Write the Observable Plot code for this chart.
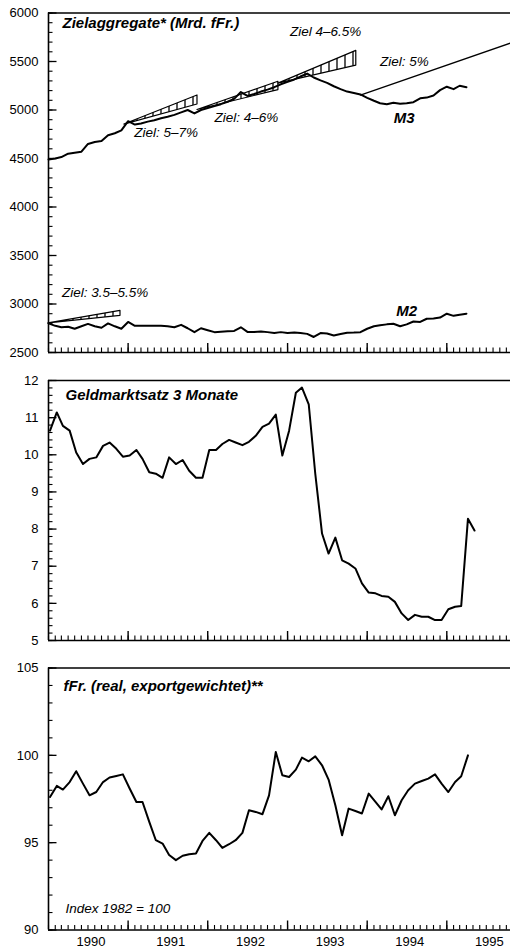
<!DOCTYPE html>
<html><head><meta charset="utf-8">
<script src="https://cdn.jsdelivr.net/npm/d3@7"></script>
<script src="https://cdn.jsdelivr.net/npm/@observablehq/plot@0.6"></script>
<style>
html,body{margin:0;padding:0;background:#fff;}
#chart{width:510px;height:950px;overflow:hidden;background:#fff;}
#chart svg{display:block;}
</style></head><body><div id="chart"></div>
<script>
// ---------- DATA ----------
// Panel 1: monthly, Jan 1990 onward (Mrd. fFr.)
const m3Values = [4490,4500,4515,4550,4560,4570,4650,4670,4680,4740,4760,4790,
  4885,4850,4860,4880,4895,4915,4930,4950,4975,5000,4965,5000,
  5020,5040,5060,5085,5115,5185,5145,5165,5190,5210,5235,5265,
  5290,5315,5345,5375,5335,5305,5280,5245,5215,5190,5175,5160,
  5125,5095,5070,5060,5074,5065,5070,5080,5120,5128,5150,5205,
  5240,5215,5250,5235];
const m2Values = [2800,2775,2760,2765,2745,2770,2795,2770,2755,2800,2770,2745,
  2815,2775,2775,2775,2775,2775,2770,2760,2785,2750,2710,2750,
  2730,2710,2715,2720,2722,2760,2712,2712,2717,2710,2700,2710,
  2700,2705,2700,2692,2660,2700,2695,2676,2690,2703,2705,2710,
  2745,2770,2780,2790,2796,2770,2790,2820,2815,2848,2850,2860,
  2900,2878,2890,2900];
// M3 target corridors
const m3TargetNames = ["Ziel: 5–7%","Ziel: 4–6%","Ziel 4–6.5%"];
const m3TargetStart = ["1990-12-15","1991-11-15","1992-11-20"];
const m3TargetStartValue = [4850,5000,5272];
const m3TargetEnd = ["1991-11-15","1992-11-20","1993-11-12"];
const m3TargetLow = [5057,5205,5458];
const m3TargetHigh = [5150,5291,5610];
// M2 target corridor
const m2TargetStart = "1990-01-01", m2TargetStartValue = 2800;
const m2TargetEnd = "1990-11-27", m2TargetLow = 2878, m2TargetHigh = 2930;
// M3 target path 5%
const m3PathDates = ["1993-12-01","1995-10-20"];
const m3PathValues = [5153,5690];
// Panel 2: 3-month money market rate (%)
const rateValues = [10.65,11.14,10.78,10.65,10.06,9.75,9.89,9.93,10.24,10.33,
  10.16,9.95,9.98,10.13,9.89,9.53,9.49,9.38,9.93,9.75,
  9.86,9.57,9.38,9.38,10.13,10.13,10.29,10.40,10.33,10.26,
  10.35,10.51,10.75,10.84,11.08,9.98,10.65,11.67,11.81,11.36,
  9.49,7.88,7.34,7.77,7.16,7.07,6.94,6.54,6.29,6.27,
  6.20,6.18,6.04,5.73,5.55,5.69,5.64,5.64,5.55,5.55,
  5.84,5.91,5.93,8.28,7.96];
// Panel 3: real export-weighted franc index (1982 = 100)
const fxValues = [97.62,98.25,98.04,98.47,99.09,98.38,97.71,97.90,98.47,98.73,98.82,98.91,
  98.10,97.33,97.33,96.19,95.14,94.95,94.29,94.00,94.25,94.34,94.38,95.10,
  95.56,95.14,94.70,94.91,95.14,95.56,96.86,96.76,96.63,97.71,100.19,98.86,
  98.76,99.18,99.87,99.66,99.94,99.43,98.61,97.14,95.43,96.95,96.81,96.67,
  97.81,97.33,96.90,97.66,96.57,97.43,98.00,98.38,98.53,98.67,98.91,98.38,
  97.90,98.47,98.80,100.00];
// Titles / annotations
const titles = ["Zielaggregate* (Mrd. fFr.)","Geldmarktsatz 3 Monate","fFr. (real, exportgewichtet)**"];
const indexNote = "Index 1982 = 100";
const p1Labels = ["Ziel 4–6.5%","Ziel: 5%","Ziel: 5–7%","Ziel: 4–6%"];
const p1LabelDates = ["1993-06-24","1994-06-20","1991-06-24","1992-06-26"];
const p1LabelValues = [5810,5495,4763,4918];
const seriesLabels = ["M3","M2"];
const seriesLabelDates = ["1994-06-20","1994-07-01"];
const seriesLabelValues = [4918,2923];
const m2TargetLabel = "Ziel: 3.5–5.5%", m2TargetLabelDate = "1990-03-04", m2TargetLabelValue = 3113;
const years = [1990,1991,1992,1993,1994,1995];
const y1Labels = [2500,3000,3500,4000,4500,5000,5500,6000];
const y2Labels = [5,6,7,8,9,10,11,12];
const y3Labels = [90,95,100,105];

// ---------- BUILD ----------
const xDomain = [new Date(Date.UTC(1990,0,1)), new Date(Date.UTC(1995,9,20))];
const monthTicks = d3.utcMonth.range(xDomain[0], xDomain[1]);
const yearTicks = years.slice(1).map(y => new Date(Date.UTC(y,0,1)));
const yearLabelTicks = years.map(y => new Date(Date.UTC(y,6,15)));
const D = s => new Date(s + "T00:00:00Z");

const m3 = m3Values.map((v,i) => ({date: new Date(Date.UTC(1990,i,1)), value: v}));
const m2 = m2Values.map((v,i) => ({date: new Date(Date.UTC(1990,i,1)), value: v}));
const rate = rateValues.map((v,i) => ({date: new Date(Date.UTC(1990,i,8)), value: v}));
const fx = fxValues.map((v,i) => ({date: new Date(Date.UTC(1990,i,8)), value: v}));

const wedges = [];
m3TargetNames.forEach((n,i) => {
  wedges.push({id:n, date:D(m3TargetStart[i]), lo:m3TargetStartValue[i], hi:m3TargetStartValue[i]});
  wedges.push({id:n, date:D(m3TargetEnd[i]), lo:m3TargetLow[i], hi:m3TargetHigh[i]});
});
wedges.push({id:"m2", date:D(m2TargetStart), lo:m2TargetStartValue, hi:m2TargetStartValue});
wedges.push({id:"m2", date:D(m2TargetEnd), lo:m2TargetLow, hi:m2TargetHigh});
const path5 = m3PathDates.map((d,i) => ({date:D(d), value:m3PathValues[i]}));

const ann = p1Labels.map((t,i) => ({text:t, date:D(p1LabelDates[i]), value:p1LabelValues[i]}));
const serAnn = seriesLabels.map((t,i) => ({text:t, date:D(seriesLabelDates[i]), value:seriesLabelValues[i]}));

const font = "'Liberation Sans', Arial, Helvetica, sans-serif";
const plain = d => String(d);

function frameMarks(yDomain, minorStep, labels, showYears) {
  const minor = d3.range(yDomain[0], yDomain[1] + minorStep/2, minorStep);
  const marks = [
    Plot.axisY({ticks: minor, tickSize: -4.5, tickFormat: () => "", label: null, strokeWidth: 1.1}),
    Plot.axisY({ticks: labels, tickSize: -8.5, tickFormat: () => "", label: null, strokeWidth: 1.3}),
    Plot.axisY({ticks: labels, tickSize: 0, tickPadding: 10, fontSize: 13, tickFormat: plain, label: null}),
    Plot.axisX({ticks: monthTicks, tickSize: -4.5, tickFormat: () => "", label: null, strokeWidth: 1.1}),
    Plot.axisX({ticks: yearTicks, tickSize: -9, tickFormat: () => "", label: null, strokeWidth: 1.4}),
    Plot.ruleY([yDomain[1]], {stroke: "black", strokeWidth: 1.6}),
    Plot.ruleY([yDomain[0]], {stroke: "black", strokeWidth: 1.6}),
    Plot.ruleX([xDomain[0]], {stroke: "black", strokeWidth: 1.6})
  ];
  if (showYears) marks.push(Plot.axisX({ticks: yearLabelTicks, tickSize: 0, tickPadding: 7, fontSize: 13, tickFormat: d3.utcFormat("%Y"), label: null}));
  return marks;
}

function panel(height, marginTop, marginBottom, yDomain, marks) {
  return Plot.plot({
    width: 510, height, marginLeft: 48, marginRight: 0, marginTop, marginBottom,
    x: {type: "utc", domain: xDomain, axis: null, label: null},
    y: {domain: yDomain, axis: null, label: null},
    style: {fontFamily: font, fontSize: "13px", color: "#000", background: "#fff", overflow: "visible"},
    marks
  });
}

const titleOpts = {textAnchor: "start", lineAnchor: "middle", fontSize: 15, fontWeight: "bold", fontStyle: "italic", fill: "black"};

const svg1 = panel(362, 12.5, 10, [2500, 6000], [
  ...frameMarks([2500, 6000], 100, y1Labels, false),
  Plot.areaY(wedges, {x: "date", y1: "lo", y2: "hi", z: "id", fill: "url(#hatch)", stroke: "black", strokeWidth: 1.2}),
  Plot.lineY(path5, {x: "date", y: "value", stroke: "black", strokeWidth: 1.3}),
  Plot.lineY(m3, {x: "date", y: "value", stroke: "black", strokeWidth: 2}),
  Plot.lineY(m2, {x: "date", y: "value", stroke: "black", strokeWidth: 2}),
  Plot.text([titles[0]], {text: d => d, frameAnchor: "top-left", dx: 14, dy: 10, ...titleOpts}),
  Plot.text(ann, {x: "date", y: "value", text: "text", fontSize: 13.5, fontStyle: "italic", fill: "black"}),
  Plot.text(serAnn, {x: "date", y: "value", text: "text", fontSize: 15, fontWeight: "bold", fontStyle: "italic", fill: "black"}),
  Plot.text([m2TargetLabel], {text: d => d, x: [D(m2TargetLabelDate)], y: [m2TargetLabelValue], textAnchor: "start", fontSize: 13.5, fontStyle: "italic", fill: "black"})
]);

const svg2 = panel(288, 18, 10, [5, 12], [
  ...frameMarks([5, 12], 0.2, y2Labels, false),
  Plot.lineY(rate, {x: "date", y: "value", stroke: "black", strokeWidth: 2}),
  Plot.text([titles[1]], {text: d => d, frameAnchor: "top-left", dx: 17, dy: 15, ...titleOpts})
]);

const svg3 = panel(300, 17.5, 20.5, [90, 105], [
  ...frameMarks([90, 105], 1, y3Labels, true),
  Plot.lineY(fx, {x: "date", y: "value", stroke: "black", strokeWidth: 2}),
  Plot.text([titles[2]], {text: d => d, frameAnchor: "top-left", dx: 15, dy: 18, ...titleOpts}),
  Plot.text([indexNote], {text: d => d, frameAnchor: "bottom-left", dx: 17, dy: -21, textAnchor: "start", lineAnchor: "middle", fontSize: 13.5, fontStyle: "italic", fill: "black"})
]);

// hatch pattern for target corridors
const defs = d3.select(svg1).insert("defs", ":first-child");
const pat = defs.append("pattern").attr("id", "hatch").attr("patternUnits", "userSpaceOnUse").attr("width", 8).attr("height", 8);
pat.append("rect").attr("width", 8).attr("height", 8).attr("fill", "white");
pat.append("line").attr("x1", 1).attr("x2", 1).attr("y1", 0).attr("y2", 8).attr("stroke", "black").attr("stroke-width", 1.3);

const chart = document.getElementById("chart");
chart.append(svg1, svg2, svg3);
</script></body></html>
